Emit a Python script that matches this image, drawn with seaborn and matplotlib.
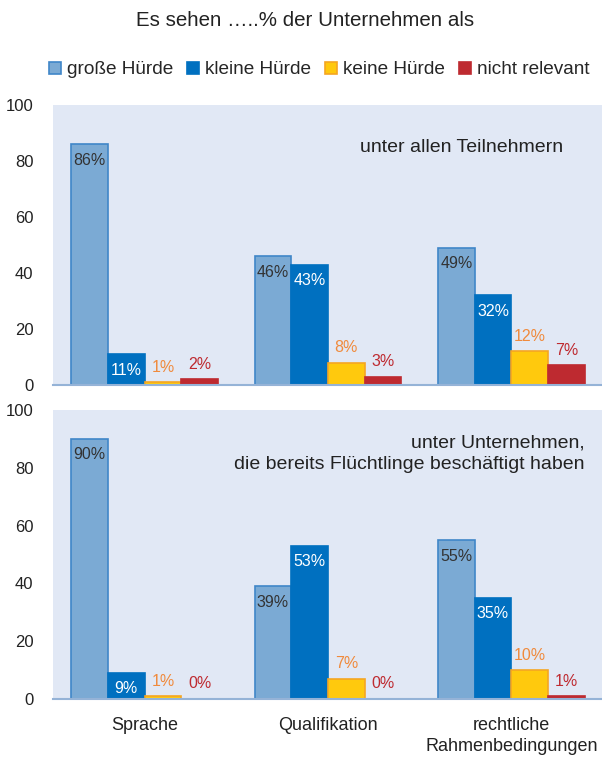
import numpy as np
import pandas as pd
import matplotlib
matplotlib.use("Agg")
import matplotlib.pyplot as plt
import seaborn as sns
from matplotlib.patches import Patch

sns.set_theme(style="white")
plt.rcParams['font.family'] = ['Liberation Sans', 'DejaVu Sans']

categories = ["Sprache", "Qualifikation", "rechtliche\nRahmenbedingungen"]
series = ["große Hürde", "kleine Hürde", "keine Hürde", "nicht relevant"]
# top panel: unter allen Teilnehmern
top_gross = [86, 46, 49]
top_klein = [11, 43, 32]
top_keine = [1, 8, 12]
top_nicht = [2, 3, 7]
# bottom panel: unter Unternehmen, die bereits Flüchtlinge beschäftigt haben
bot_gross = [90, 39, 55]
bot_klein = [9, 53, 35]
bot_keine = [1, 7, 10]
bot_nicht = [0, 0, 1]
yticks = [0, 20, 40, 60, 80, 100]

title = "Es sehen …..% der Unternehmen als"
top_note = "unter allen Teilnehmern"
bot_note = "unter Unternehmen,\ndie bereits Flüchtlinge beschäftigt haben"

fill = ["#7BAAD4", "#0070C0", "#FFC90D", "#BE2A30"]
edge = ["#3F86C8", "#0070C0", "#F5A623", "#BE2A30"]
label_col = ["#333333", "#FFFFFF", "#F08A3C", "#BE2A30"]
bg = "#E1E8F5"
axis_col = "#95B3D7"

def make_df(vals):
    rows = []
    for s, v in zip(series, vals):
        for c, x in zip(categories, v):
            rows.append({"cat": c, "series": s, "val": x})
    return pd.DataFrame(rows)

df_top = make_df([top_gross, top_klein, top_keine, top_nicht])
df_bot = make_df([bot_gross, bot_klein, bot_keine, bot_nicht])

W, H = 602, 758
fig = plt.figure(figsize=(W / 100, H / 100), dpi=100)
ax_top = fig.add_axes([53 / W, 1 - 385 / H, 550 / W, 280 / H])
ax_bot = fig.add_axes([53 / W, 1 - 699 / H, 550 / W, 289 / H])

for ax, df, show_x in [(ax_top, df_top, False), (ax_bot, df_bot, True)]:
    sns.barplot(data=df, x="cat", y="val", hue="series", hue_order=series,
                palette=fill, width=0.8, ax=ax, legend=False, saturation=1)
    ax.set_facecolor(bg)
    ax.set_ylim(0, 100)
    ax.set_xlim(-0.5, 2.5)
    ax.set_yticks(yticks)
    ax.set_yticklabels([str(t) for t in yticks], fontsize=12, color="#222222")
    ax.tick_params(axis="y", length=0, pad=14)
    ax.set_xlabel("")
    ax.set_ylabel("")
    for sp in ["top", "right", "left"]:
        ax.spines[sp].set_visible(False)
    ax.spines["bottom"].set_color(axis_col)
    ax.spines["bottom"].set_linewidth(1.5)
    ax.set_xticks([0, 1, 2])
    ax.set_xticks([-0.5, 0.5, 1.5, 2.5], minor=True)
    ax.tick_params(axis="x", which="major", length=0, pad=13)
    ax.tick_params(axis="x", which="minor", length=6, width=1.2, color=axis_col, direction="out")
    if show_x:
        ax.set_xticklabels(categories, fontsize=13, color="#222222", linespacing=1.3)
    else:
        ax.set_xticklabels([])
    for i, cont in enumerate(ax.containers):
        for p in cont:
            p.set_edgecolor(edge[i])
            p.set_linewidth(1.2)
            h = p.get_height()
            xc = p.get_x() + p.get_width() / 2
            if i < 2:
                ax.annotate(f"{h:.0f}%", (xc, h), xytext=(0, -16), textcoords="offset pixels",
                            ha="center", va="center", fontsize=11.5, color=label_col[i])
            else:
                ax.annotate(f"{h:.0f}%", (xc, h), xytext=(0, 15), textcoords="offset pixels",
                            ha="center", va="center", fontsize=11.5, color=label_col[i])

fig.text(462 / W, 1 - 147 / H, top_note, ha="center", va="center", fontsize=14, color="#222222")
fig.text(585 / W, 1 - 454 / H, bot_note, ha="right", va="center", fontsize=14,
         color="#222222", linespacing=1.38, multialignment="right")

fig.text(305 / W, 1 - 21 / H, title, ha="center", va="center", fontsize=14.8, color="#222222")

handles = [Patch(facecolor=f, edgecolor=e, linewidth=1.2) for f, e in zip(fill, edge)]
fig.legend(handles, series, loc="center", bbox_to_anchor=(319 / W, 1 - 70 / H), ncol=4,
           frameon=False, fontsize=13.7, handlelength=0.64, handleheight=0.64,
           handletextpad=0.3, columnspacing=0.74, borderpad=0)

fig.savefig("out.png", dpi=100)
